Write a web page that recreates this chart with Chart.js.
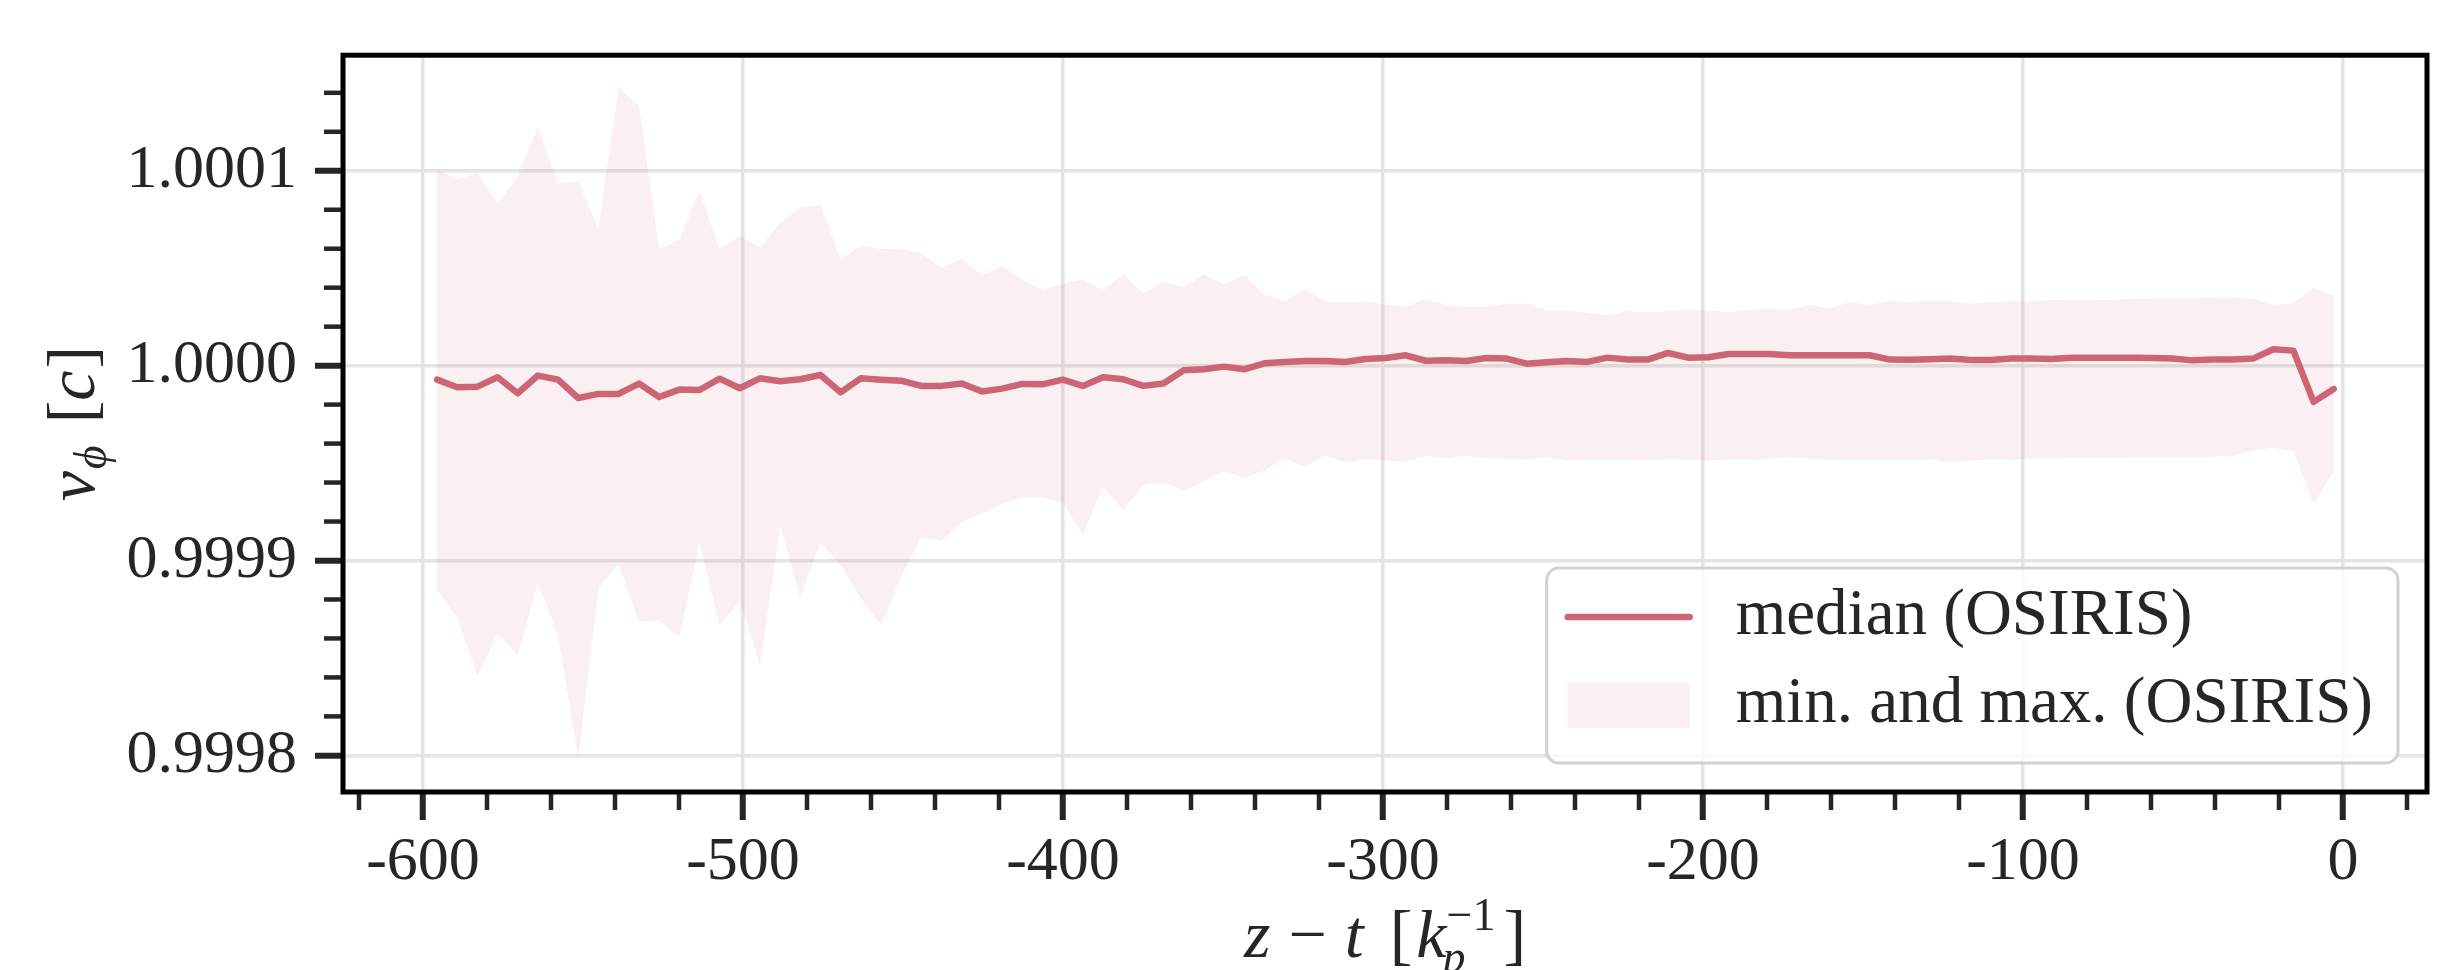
<!DOCTYPE html>
<html>
<head>
<meta charset="utf-8">
<script src="https://cdn.jsdelivr.net/npm/chart.js@4.4.1/dist/chart.umd.min.js"></script>
<style>
  html, body { margin: 0; padding: 0; background: #fff; }
  #wrap { width: 2459px; height: 970px; }
</style>
</head>
<body>
<div id="wrap"><canvas id="chart" width="2459" height="970"></canvas></div>
<script>
// z - t positions [k_p^-1]
const zValues = [
  -595.6, -589.3, -583.0, -576.7, -570.4, -564.1, -557.8, -551.5, -545.2, -538.9,
  -532.5, -526.2, -519.9, -513.6, -507.3, -501.0, -494.7, -488.4, -482.1, -475.8,
  -469.5, -463.2, -456.9, -450.6, -444.3, -437.9, -431.6, -425.3, -419.0, -412.7,
  -406.4, -400.1, -393.8, -387.5, -381.2, -374.9, -368.6, -362.3, -356.0, -349.7,
  -343.4, -337.1, -330.7, -324.4, -318.1, -311.8, -305.5, -299.2, -292.9, -286.6,
  -280.3, -274.0, -267.7, -261.4, -255.1, -248.8, -242.5, -236.2, -229.9, -223.6,
  -217.2, -210.9, -204.6, -198.3, -192.0, -185.7, -179.4, -173.1, -166.8, -160.5,
  -154.2, -147.9, -141.6, -135.3, -129.0, -122.7, -116.4, -110.1, -103.7, -97.4,
  -91.1, -84.8, -78.5, -72.2, -65.9, -59.6, -53.3, -47.0, -40.7, -34.4,
  -28.1, -21.8, -15.5, -9.2, -2.9
];

// v_phi [c], median
const medianValues = [
  0.9999928, 0.9999889, 0.9999892, 0.9999940, 0.9999858, 0.9999949, 0.9999928, 0.9999834, 0.9999855, 0.9999855,
  0.9999908, 0.9999839, 0.9999877, 0.9999875, 0.9999933, 0.9999884, 0.9999935, 0.9999920, 0.9999930, 0.9999952,
  0.9999863, 0.9999935, 0.9999928, 0.9999923, 0.9999896, 0.9999896, 0.9999908, 0.9999867, 0.9999882, 0.9999906,
  0.9999904, 0.9999928, 0.9999896, 0.9999940, 0.9999930, 0.9999896, 0.9999908, 0.9999976, 0.9999981, 0.9999995,
  0.9999981, 1.0000012, 1.0000019, 1.0000024, 1.0000024, 1.0000019, 1.0000034, 1.0000039, 1.0000053, 1.0000025,
  1.0000027, 1.0000024, 1.0000039, 1.0000036, 1.0000010, 1.0000017, 1.0000024, 1.0000019, 1.0000041, 1.0000031,
  1.0000031, 1.0000065, 1.0000041, 1.0000043, 1.0000060, 1.0000060, 1.0000060, 1.0000053, 1.0000053, 1.0000053,
  1.0000053, 1.0000053, 1.0000031, 1.0000030, 1.0000033, 1.0000036, 1.0000029, 1.0000029, 1.0000036, 1.0000036,
  1.0000034, 1.0000041, 1.0000041, 1.0000041, 1.0000041, 1.0000039, 1.0000036, 1.0000027, 1.0000031, 1.0000031,
  1.0000036, 1.0000084, 1.0000077, 0.9999814, 0.9999880
];

// v_phi [c], maximum
const maxValues = [
  1.0001007, 1.0000957, 1.0000988, 1.0000831, 1.0000969, 1.0001224, 1.0000933, 1.0000945, 1.0000704, 1.0001427,
  1.0001333, 1.0000598, 1.0000643, 1.0000894, 1.0000600, 1.0000667, 1.0000605, 1.0000733, 1.0000812, 1.0000824,
  1.0000547, 1.0000614, 1.0000598, 1.0000602, 1.0000574, 1.0000501, 1.0000549, 1.0000463, 1.0000513, 1.0000439,
  1.0000386, 1.0000422, 1.0000443, 1.0000386, 1.0000472, 1.0000371, 1.0000431, 1.0000402, 1.0000467, 1.0000417,
  1.0000465, 1.0000366, 1.0000330, 1.0000393, 1.0000330, 1.0000323, 1.0000330, 1.0000313, 1.0000304, 1.0000342,
  1.0000313, 1.0000301, 1.0000304, 1.0000318, 1.0000320, 1.0000282, 1.0000282, 1.0000272, 1.0000260, 1.0000282,
  1.0000272, 1.0000282, 1.0000284, 1.0000282, 1.0000277, 1.0000287, 1.0000289, 1.0000287, 1.0000313, 1.0000294,
  1.0000325, 1.0000313, 1.0000330, 1.0000328, 1.0000330, 1.0000330, 1.0000318, 1.0000325, 1.0000330, 1.0000328,
  1.0000337, 1.0000335, 1.0000335, 1.0000337, 1.0000345, 1.0000345, 1.0000347, 1.0000347, 1.0000349, 1.0000349,
  1.0000342, 1.0000313, 1.0000320, 1.0000398, 1.0000357
];

// v_phi [c], minimum
const minValues = [
  0.9998848, 0.9998706, 0.9998405, 0.9998627, 0.9998513, 0.9998887, 0.9998614, 0.9997983, 0.9998855, 0.9998983,
  0.9998687, 0.9998694, 0.9998607, 0.9999089, 0.9998667, 0.9998795, 0.9998458, 0.9999173, 0.9998814, 0.9999094,
  0.9998976, 0.9998807, 0.9998667, 0.9998916, 0.9999120, 0.9999101, 0.9999198, 0.9999241, 0.9999289, 0.9999323,
  0.9999325, 0.9999294, 0.9999133, 0.9999378, 0.9999258, 0.9999388, 0.9999402, 0.9999357, 0.9999405, 0.9999458,
  0.9999422, 0.9999460, 0.9999525, 0.9999480, 0.9999540, 0.9999504, 0.9999520, 0.9999513, 0.9999506, 0.9999538,
  0.9999523, 0.9999537, 0.9999523, 0.9999523, 0.9999520, 0.9999530, 0.9999513, 0.9999520, 0.9999520, 0.9999520,
  0.9999513, 0.9999523, 0.9999518, 0.9999513, 0.9999518, 0.9999518, 0.9999523, 0.9999528, 0.9999523, 0.9999520,
  0.9999520, 0.9999520, 0.9999520, 0.9999518, 0.9999520, 0.9999506, 0.9999513, 0.9999518, 0.9999518, 0.9999523,
  0.9999523, 0.9999525, 0.9999525, 0.9999525, 0.9999528, 0.9999528, 0.9999530, 0.9999530, 0.9999533, 0.9999535,
  0.9999566, 0.9999578, 0.9999559, 0.9999289, 0.9999458
];

const xTicks = [-600, -500, -400, -300, -200, -100, 0];
const yTicks = [0.9998, 0.9999, 1.0000, 1.0001];
const yTickLabels = ['0.9998', '0.9999', '1.0000', '1.0001'];
const seriesLabels = ['median (OSIRIS)', 'min. and max. (OSIRIS)'];

const LINE_COLOR = '#cc6677';
const BAND_COLOR = 'rgba(204, 102, 119, 0.1)';
const TEXT_COLOR = '#262626';
const SERIF = '"Liberation Serif", "Times New Roman", serif';

function points(values) {
    return zValues.map((z, i) => ({ x: z, y: values[i] }));
}

// draws a row of text pieces (normal / italic / sub / sup) starting at x0 on baseline y0
function drawPieces(ctx, pieces, x0, y0, measureOnly) {
    let x = x0;
    pieces.forEach(p => {
        ctx.font = (p.italic ? 'italic ' : '') + p.size + 'px ' + SERIF;
        x += p.gap || 0;
        const w = ctx.measureText(p.text).width;
        if (!measureOnly) ctx.fillText(p.text, x, y0 + (p.dy || 0));
        if (!p.noAdvance) x += w;
    });
    return x - x0;
}

const decorations = {
    id: 'decorations',
    afterDraw(chart) {
        const ctx = chart.ctx;
        const area = chart.chartArea;
        const xs = chart.scales.x;
        const ys = chart.scales.y;

        ctx.save();
        // minor ticks
        ctx.strokeStyle = TEXT_COLOR;
        ctx.lineWidth = 4.5;
        for (let v = -620; v <= 20; v += 20) {
            if (v % 100 === 0) continue;
            const px = xs.getPixelForValue(v);
            ctx.beginPath();
            ctx.moveTo(px, area.bottom);
            ctx.lineTo(px, area.bottom + 18);
            ctx.stroke();
        }
        for (let k = -11; k <= 8; k++) {
            if (k % 5 === 0) continue;
            const v = 1 + k * 0.00002;
            const py = ys.getPixelForValue(v);
            if (py < area.top || py > area.bottom) continue;
            ctx.beginPath();
            ctx.moveTo(area.left, py);
            ctx.lineTo(area.left - 19, py);
            ctx.stroke();
        }

        // frame
        ctx.strokeStyle = '#000';
        ctx.lineWidth = 5;
        ctx.strokeRect(area.left, area.top, area.right - area.left, area.bottom - area.top);

        // legend
        ctx.font = '65px ' + SERIF;
        const textW = Math.max(...seriesLabels.map(s => ctx.measureText(s).width));
        const lw = 21 + 122 + 46 + textW + 25;
        const lh = 195;
        const lx = area.right - 29 - lw;
        const ly = area.bottom - 29 - lh;
        ctx.beginPath();
        ctx.roundRect(lx, ly, lw, lh, 12);
        ctx.fillStyle = 'rgba(255, 255, 255, 0.8)';
        ctx.fill();
        ctx.strokeStyle = '#d2d2d2';
        ctx.lineWidth = 3;
        ctx.stroke();

        ctx.strokeStyle = LINE_COLOR;
        ctx.lineWidth = 6.5;
        ctx.lineCap = 'round';
        ctx.beginPath();
        ctx.moveTo(lx + 21, ly + 49);
        ctx.lineTo(lx + 143, ly + 49);
        ctx.stroke();
        ctx.fillStyle = BAND_COLOR;
        ctx.fillRect(lx + 21, ly + 114, 122, 46);

        ctx.fillStyle = TEXT_COLOR;
        ctx.textBaseline = 'middle';
        ctx.textAlign = 'left';
        ctx.fillText(seriesLabels[0], lx + 189, ly + 49);
        ctx.fillText(seriesLabels[1], lx + 189, ly + 137);

        // x axis title: z - t [k_p^-1]
        ctx.textBaseline = 'alphabetic';
        const xTitle = [
            { text: 'z', italic: true, size: 68 },
            { text: '\u2212', size: 68, gap: 18 },
            { text: 't', italic: true, size: 68, gap: 18 },
            { text: '[', size: 68, gap: 26 },
            { text: 'k', italic: true, size: 68, gap: 4 },
            { text: 'p', italic: true, size: 46, dy: 15, noAdvance: true, gap: -4 },
            { text: '\u22121', size: 46, dy: -27, gap: 4 },
            { text: ']', size: 68, gap: 8 }
        ];
        const xw = drawPieces(ctx, xTitle, 0, 0, true);
        const xc = (area.left + area.right) / 2;
        drawPieces(ctx, xTitle, xc - xw / 2, 957, false);

        // y axis title: v_phi [c]
        const yTitle = [
            { text: 'v', italic: true, size: 68 },
            { text: '\u03d5', italic: true, size: 46, dy: 12, gap: 2 },
            { text: '[', size: 68, gap: 22 },
            { text: 'c', italic: true, size: 68 },
            { text: ']', size: 68, gap: 2 }
        ];
        const yw = drawPieces(ctx, yTitle, 0, 0, true);
        ctx.translate(94, (area.top + area.bottom) / 2);
        ctx.rotate(-Math.PI / 2);
        drawPieces(ctx, yTitle, -yw / 2, 0, false);
        ctx.restore();
    }
};

new Chart(document.getElementById('chart').getContext('2d'), {
    type: 'line',
    data: {
        datasets: [
            {
                label: seriesLabels[0],
                data: points(medianValues),
                borderColor: LINE_COLOR,
                borderWidth: 6.5,
                borderJoinStyle: 'round',
                borderCapStyle: 'round',
                pointRadius: 0,
                fill: false
            },
            {
                label: seriesLabels[1],
                data: points(maxValues),
                borderColor: 'rgba(0, 0, 0, 0)',
                borderWidth: 0,
                backgroundColor: BAND_COLOR,
                pointRadius: 0,
                fill: '+1'
            },
            {
                label: 'min',
                data: points(minValues),
                borderColor: 'rgba(0, 0, 0, 0)',
                borderWidth: 0,
                pointRadius: 0,
                fill: false
            }
        ]
    },
    options: {
        responsive: false,
        animation: false,
        devicePixelRatio: 1,
        layout: { padding: { top: 52, right: 32, left: 0, bottom: 0 } },
        plugins: {
            legend: { display: false },
            tooltip: { enabled: false }
        },
        scales: {
            x: {
                type: 'linear',
                min: -625,
                max: 26.25,
                afterFit: scale => { scale.height = 178; },
                afterBuildTicks: axis => { axis.ticks = xTicks.map(v => ({ value: v })); },
                border: { display: false },
                grid: {
                    color: '#e4e4e4',
                    lineWidth: 3.5,
                    drawTicks: true,
                    tickLength: 28,
                    tickColor: TEXT_COLOR,
                    tickWidth: 6
                },
                ticks: {
                    color: TEXT_COLOR,
                    font: { family: SERIF, size: 62 },
                    padding: 6,
                    maxRotation: 0,
                    autoSkip: false,
                    callback: v => String(v)
                }
            },
            y: {
                type: 'linear',
                min: 0.9997812,
                max: 1.0001593,
                afterFit: scale => { scale.width = 343; },
                afterBuildTicks: axis => { axis.ticks = yTicks.map(v => ({ value: v })); },
                border: { display: false },
                grid: {
                    color: '#e4e4e4',
                    lineWidth: 3.5,
                    drawTicks: true,
                    tickLength: 28,
                    tickColor: TEXT_COLOR,
                    tickWidth: 6
                },
                ticks: {
                    color: TEXT_COLOR,
                    font: { family: SERIF, size: 62 },
                    padding: 18,
                    autoSkip: false,
                    callback: v => yTickLabels[yTicks.indexOf(v)]
                }
            }
        }
    },
    plugins: [decorations]
});
</script>
</body>
</html>
